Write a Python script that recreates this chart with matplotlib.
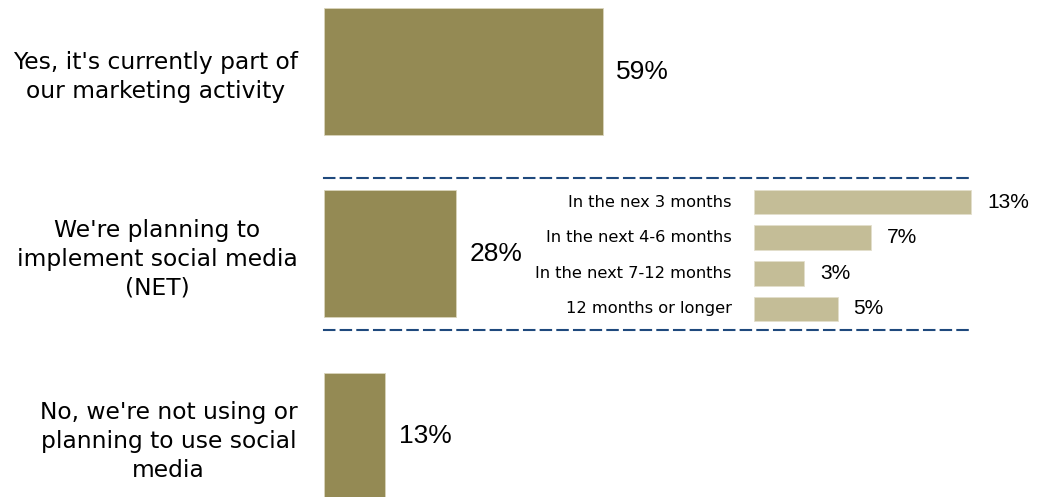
import matplotlib
matplotlib.use('Agg')
import matplotlib.pyplot as plt

# main question
main_labels = ["Yes, it's currently part of\nour marketing activity",
               "We're planning to\nimplement social media\n(NET)",
               "No, we're not using or\nplanning to use social\nmedia"]
main_vals = [59, 28, 13]

# breakdown of the "planning" answer
sub_labels = ['In the nex 3 months', 'In the next 4-6 months',
              'In the next 7-12 months', '12 months or longer']
sub_vals = [13, 7, 3, 5]

W, H = 1047, 497
dark = '#948A54'
light = '#C4BD97'
navy = '#1F497D'

fig = plt.figure(figsize=(W / 100, H / 100), dpi=100)

ax = fig.add_axes([324 / W, 0, (W - 324) / W, 1])
bars = ax.barh(range(len(main_vals)), main_vals, height=0.696, color=dark,
               edgecolor='#d9d4bc', linewidth=0.6)
ax.set_xlim(0, (W - 324) / 4.73)
ax.set_ylim(2.332, -0.392)
ax.set_xticks([])
ax.set_yticks(range(len(main_vals)))
ax.set_yticklabels(main_labels, fontsize=16.8, family='DejaVu Sans',
                   multialignment='center', linespacing=1.33)
ax.tick_params(axis='y', length=0, pad=19)
for s in ax.spines.values():
    s.set_visible(False)
ax.bar_label(bars, labels=[f'{v}%' for v in main_vals], padding=9.5,
             fontsize=19, family='Liberation Sans')

# inset panel with the timing breakdown
sx = fig.add_axes([324 / W, (H - 330) / H, (973 - 324) / W, 152 / H])
sx.set_facecolor('none')
sbars = sx.barh(range(len(sub_vals)), sub_vals, height=0.687, color=light,
                edgecolor='#e3dfcc', linewidth=0.6)
sx.set_xlim(-(754 - 324) / 16.7, (973 - 754) / 16.7)
sx.set_ylim(3.589, -0.673)
sx.set_xticks([])
sx.set_yticks([])
for i, lab in enumerate(sub_labels):
    sx.annotate(lab, xy=(0, i), xytext=(-16, 0), textcoords='offset points',
                ha='right', va='center', fontsize=11.7, family='DejaVu Sans')
sx.bar_label(sbars, labels=[f'{v}%' for v in sub_vals], padding=11.5,
             fontsize=15, family='Liberation Sans')
sx.spines['left'].set_visible(False)
sx.spines['right'].set_visible(False)
for k in ['top', 'bottom']:
    sx.spines[k].set_color(navy)
    sx.spines[k].set_linewidth(1.5)
    sx.spines[k].set_linestyle((0, (5, 3)))

fig.savefig('out.png', dpi=100)
